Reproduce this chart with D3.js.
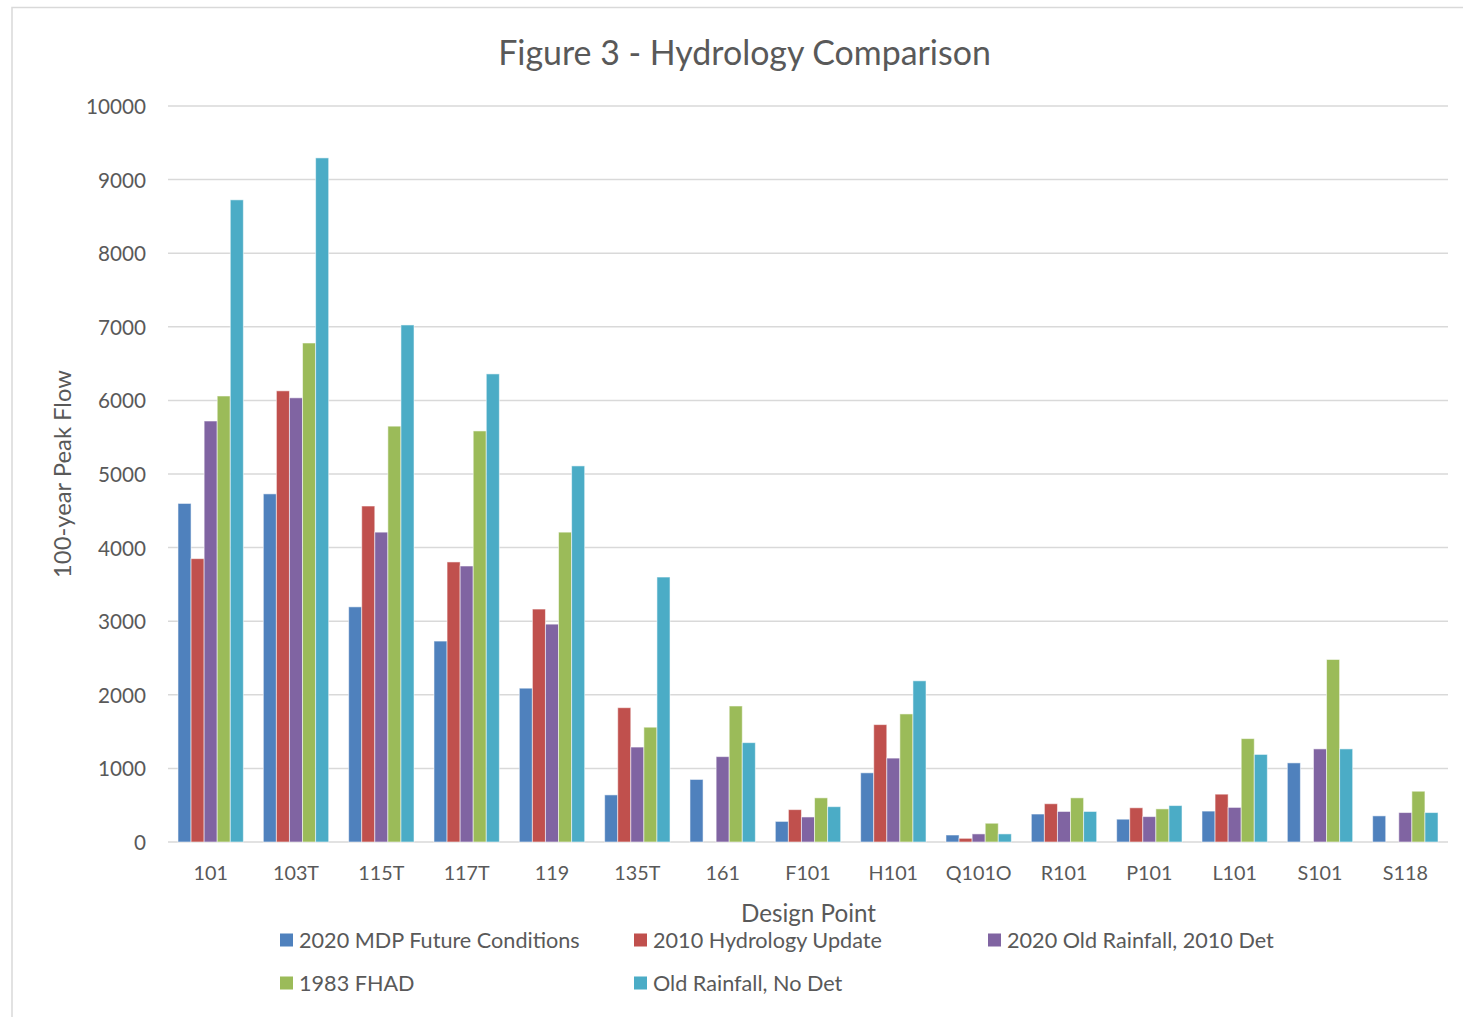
<!DOCTYPE html>
<html><head><meta charset="utf-8">
<script src="https://cdn.jsdelivr.net/npm/d3@7"></script>
<style>body{margin:0;background:#fff}svg{display:block}</style>
</head><body>
<svg id="c" width="1463" height="1017"></svg>
<script>
const categories = ["101","103T","115T","117T","119","135T","161","F101","H101","Q101O","R101","P101","L101","S101","S118"];
const seriesNames = ["2020 MDP Future Conditions","2010 Hydrology Update","2020 Old Rainfall, 2010 Det","1983 FHAD","Old Rainfall, No Det"];
const mdp2020 = [4600,4730,3195,2730,2090,640,850,280,940,95,380,310,420,1075,355];
const hyd2010 = [3850,6130,4565,3805,3165,1825,null,440,1595,50,520,465,650,null,null];
const old2020 = [5720,6035,4210,3750,2960,1290,1160,340,1140,110,415,345,470,1265,400];
const fhad1983 = [6060,6780,5650,5585,4210,1560,1848,600,1740,255,600,450,1405,2480,690];
const oldNoDet = [8725,9295,7025,6360,5110,3600,1350,480,2190,110,415,495,1190,1265,400];
const yTicks = [0,1000,2000,3000,4000,5000,6000,7000,8000,9000,10000];
const colors = ["#4f81bd","#c0504d","#8064a2","#9bbb59","#4bacc6"];
const seriesData = [mdp2020,hyd2010,old2020,fhad1983,oldNoDet];

const svg = d3.select("#c");
const FONT = "Lato, 'Noto Sans', sans-serif";
const TXT = "#595959";

// size a text element so its rendered width matches a target
function fit(sel, target){
  const n = sel.node();
  sel.attr("font-size", 100);
  const w = n.getComputedTextLength();
  const fs = 100*target/w;
  sel.attr("font-size", fs);
  return fs;
}

// chart border
svg.append("rect").attr("x",12).attr("y",7.5).attr("width",1470).attr("height",1030)
  .attr("fill","none").attr("stroke","#d9d9d9").attr("stroke-width",1.5);

const pLeft=168, pRight=1448, pTop=106, pBottom=842;
const x = d3.scaleBand().domain(categories).range([pLeft,pRight]).paddingInner(0.234).paddingOuter(0.117);
const xs = d3.scaleBand().domain(d3.range(5)).range([0,x.bandwidth()]);
const y = d3.scaleLinear().domain([0,10000]).range([pBottom,pTop]);

// gridlines
svg.append("g").selectAll("line").data(yTicks).join("line")
  .attr("x1",pLeft).attr("x2",pRight).attr("y1",d=>y(d)).attr("y2",d=>y(d))
  .attr("stroke","#d9d9d9").attr("stroke-width",1.5);

// y tick labels
const yl = svg.append("g").selectAll("text").data(yTicks).join("text")
  .attr("x",146).attr("y",d=>y(d)).attr("text-anchor","end").attr("dominant-baseline","central")
  .attr("font-family",FONT).attr("fill",TXT).text(d=>d);
const yfs = fit(d3.select(yl.nodes()[10]), 60);
yl.attr("font-size",yfs);

// bars
const g = svg.append("g");
seriesData.forEach((arr,si)=>{
  g.append("g").selectAll("rect").data(categories.map((c,i)=>({c,v:arr[i]})).filter(d=>d.v!=null)).join("rect")
    .attr("x",d=>x(d.c)+xs(si)).attr("width",xs.bandwidth())
    .attr("y",d=>y(d.v)).attr("height",d=>y(0)-y(d.v))
    .attr("fill",colors[si]).attr("stroke","#ffffff").attr("stroke-opacity",0.55).attr("stroke-width",1);
});

// x labels
const xl = svg.append("g").selectAll("text").data(categories).join("text")
  .attr("x",d=>x(d)+x.bandwidth()/2).attr("y",872).attr("text-anchor","middle").attr("dominant-baseline","central")
  .attr("font-family",FONT).attr("fill",TXT).text(d=>d);
const xfs = fit(d3.select(xl.nodes()[9]), 66);
xl.attr("font-size",xfs);

// title
const t = svg.append("text").attr("x",744.5).attr("y",52).attr("text-anchor","middle").attr("dominant-baseline","central")
  .attr("font-family",FONT).attr("fill",TXT).text("Figure 3 - Hydrology Comparison");
fit(t,493);

// axis titles
const xt = svg.append("text").attr("x",808.5).attr("y",912).attr("text-anchor","middle").attr("dominant-baseline","central")
  .attr("font-family",FONT).attr("fill",TXT).text("Design Point");
fit(xt,135);
const yt = svg.append("text").attr("transform","translate(62,474) rotate(-90)").attr("text-anchor","middle").attr("dominant-baseline","central")
  .attr("font-family",FONT).attr("fill",TXT).text("100-year Peak Flow");
fit(yt,208);

// legend
const legPos = [[280,940],[634,940],[988,940],[280,983],[634,983]];
const lg = svg.append("g");
let lfs = null;
seriesNames.forEach((s,i)=>{
  const [lx,ly] = legPos[i];
  lg.append("rect").attr("x",lx).attr("y",ly-6.5).attr("width",13).attr("height",13).attr("fill",colors[i]);
  const tx = lg.append("text").attr("x",lx+19).attr("y",ly).attr("dominant-baseline","central")
    .attr("font-family",FONT).attr("fill",TXT).text(s);
  if(i===0) lfs = fit(tx,281); else tx.attr("font-size",lfs);
});
</script>
</body></html>
